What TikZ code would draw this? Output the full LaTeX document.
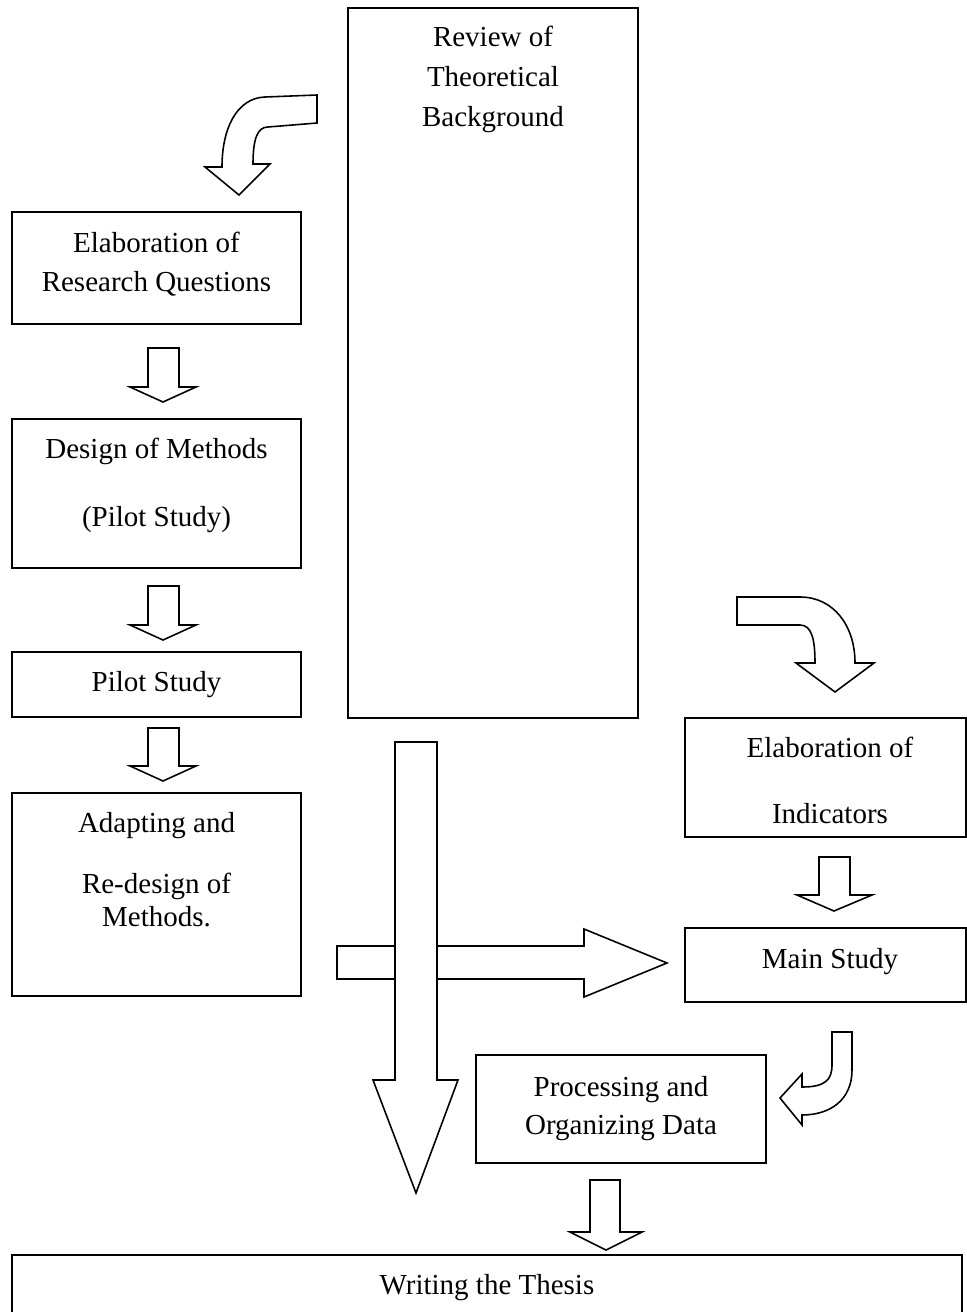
\documentclass[tikz,border=0pt]{standalone}
\usepackage{fontspec}
\setmainfont{Liberation Serif}
\begin{document}
\begin{tikzpicture}[x=0.02cm,y=-0.02cm,
  box/.style={draw, line width=1pt, inner sep=0pt, rectangle},
  blk/.style={draw, fill=white, line width=0.9pt, line join=miter},
  txt/.style={anchor=base, inner sep=0pt, font=\fontsize{16.5}{22}\selectfont}]
\useasboundingbox (0,0) rectangle (967,1312);
\clip (0,0) rectangle (967,1312);
% boxes
\node[box, minimum width=5.8cm, minimum height=14.2cm] (rev) at (493,363) {};
\node[box, minimum width=5.78cm, minimum height=2.24cm] (rq) at (156.5,268) {};
\node[box, minimum width=5.78cm, minimum height=2.98cm] (dm) at (156.5,493.5) {};
\node[box, minimum width=5.78cm, minimum height=1.30cm] (ps) at (156.5,684.5) {};
\node[box, minimum width=5.78cm, minimum height=4.06cm] (ad) at (156.5,894.5) {};
\node[box, minimum width=5.62cm, minimum height=2.38cm] (ei) at (825.5,777.5) {};
\node[box, minimum width=5.62cm, minimum height=1.48cm] (ms) at (825.5,965) {};
\node[box, minimum width=5.80cm, minimum height=2.16cm] (pd) at (621,1109) {};
\node[box, minimum width=19.0cm, minimum height=1.40cm] (wt) at (487,1290) {};
% texts
\node[txt] (t1) at (493,46) {Review of};
\node[txt] (t2) at (493,86) {Theoretical};
\node[txt] (t3) at (493,126) {Background};
\node[txt] (t4) at (156.5,252) {Elaboration of};
\node[txt] (t5) at (156.5,291) {Research Questions};
\node[txt] (t6) at (156.5,458) {Design of Methods};
\node[txt] (t7) at (156.5,526) {(Pilot Study)};
\node[txt] (t8) at (156.5,691) {Pilot Study};
\node[txt] (t9) at (156.5,832) {Adapting and};
\node[txt] (t10) at (156.5,893) {Re-design of};
\node[txt] (t11) at (156.5,926) {Methods.};
\node[txt] (t12) at (830,757) {Elaboration of};
\node[txt] (t13) at (830,823) {Indicators};
\node[txt] (t14) at (830,968) {Main Study};
\node[txt] (t15) at (621,1096) {Processing and};
\node[txt] (t16) at (621,1134) {Organizing Data};
\node[txt] (t17) at (487,1294) {Writing the Thesis};
% small down arrows
\draw[blk] (148,348) -- (179,348) -- (179,387) -- (196,387) -- (163,402) -- (130,387) -- (148,387) -- cycle;
\draw[blk] (148,586) -- (179,586) -- (179,625) -- (196,625) -- (163,640) -- (130,625) -- (148,625) -- cycle;
\draw[blk] (148,728) -- (179,728) -- (179,766) -- (196,766) -- (163,781) -- (130,766) -- (148,766) -- cycle;
\draw[blk] (819,857) -- (850,857) -- (850,895) -- (872,895) -- (834,911) -- (797,895) -- (819,895) -- cycle;
\draw[blk] (590,1180) -- (620,1180) -- (620,1232) -- (642,1232) -- (606,1250) -- (570,1232) -- (590,1232) -- cycle;
% horizontal arrow (behind)
\draw[blk] (337,946) -- (584,946) -- (584,929) -- (667,963) -- (584,997) -- (584,979) -- (337,979) -- cycle;
% big vertical arrow
\draw[blk] (395,742) -- (437,742) -- (437,1080) -- (458,1080) -- (416,1193) -- (373,1080) -- (395,1080) -- cycle;
% curved arrow top-left
\draw[blk] (317,95) -- (265,97) .. controls (237,98) and (222,128) .. (222,167) -- (205,167) -- (239,195) -- (270,164) -- (253,164) .. controls (253,140) and (257,127) .. (268,127) -- (317,123) -- cycle;
% curved arrow top-right
\draw[blk] (737,597) -- (800,597) .. controls (833,597) and (855,625) .. (855,663) -- (874,663) -- (835,692) -- (796,663) -- (815,663) .. controls (815,640) and (812,625) .. (800,625) -- (737,625) -- cycle;
% curved arrow bottom-right
\draw[blk] (852,1032) -- (852,1070) .. controls (852,1100) and (830,1115) .. (802,1115) -- (802,1125) -- (780,1098) -- (802,1074) -- (802,1087) .. controls (825,1087) and (832,1080) .. (832,1065) -- (832,1032) -- cycle;
\end{tikzpicture}
\end{document}
